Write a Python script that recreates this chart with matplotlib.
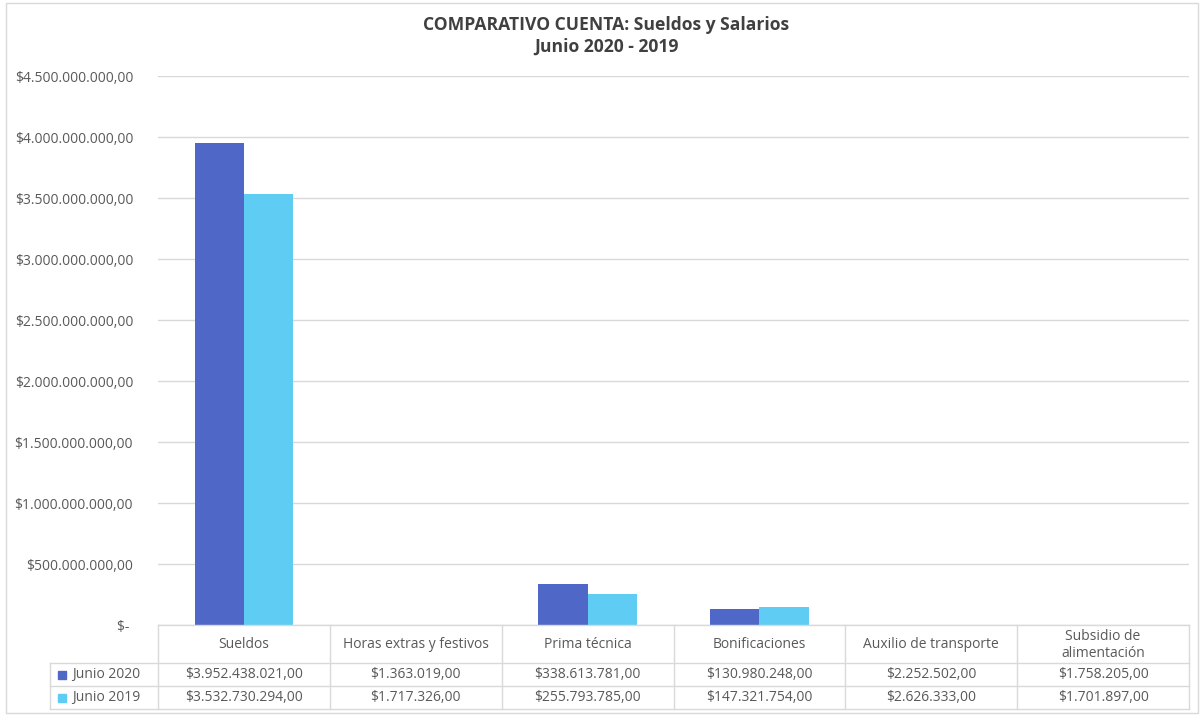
import matplotlib
matplotlib.use("Agg")
import matplotlib.pyplot as plt
from matplotlib.patches import Rectangle
from matplotlib.ticker import FuncFormatter

categories = ["Sueldos", "Horas extras y festivos", "Prima técnica",
              "Bonificaciones", "Auxilio de transporte", "Subsidio de\nalimentación"]
series_names = ["Junio 2020", "Junio 2019"]
junio_2020 = [3952438021.00, 1363019.00, 338613781.00, 130980248.00, 2252502.00, 1758205.00]
junio_2019 = [3532730294.00, 1717326.00, 255793785.00, 147321754.00, 2626333.00, 1701897.00]
yticks = [0, 500e6, 1000e6, 1500e6, 2000e6, 2500e6, 3000e6, 3500e6, 4000e6, 4500e6]
title = "COMPARATIVO CUENTA: Sueldos y Salarios\nJunio 2020 - 2019"

colors = ["#4F68C8", "#5FCDF3"]
text_color = "#595959"
grid_color = "#D9D9D9"
FONT = "Open Sans"

W, H = 1201, 715
fig = plt.figure(figsize=(W / 100, H / 100), dpi=100)
plt.rcParams['font.family'] = [FONT, 'DejaVu Sans']

def px(x0, y0, x1, y1):
    return [x0 / W, 1 - y1 / H, (x1 - x0) / W, (y1 - y0) / H]

# figure border
fig.patches.append(Rectangle((6 / W, 2 / H), (W - 9) / W, (H - 5) / H, transform=fig.transFigure,
                             fill=False, edgecolor="#D9D9D9", linewidth=1))

def fmt_money(v):
    if v == 0:
        return "$-"
    s = f"{v:,.2f}"
    s = s.replace(",", "X").replace(".", ",").replace("X", ".")
    return "$" + s

ax = fig.add_axes(px(158, 76, 1189, 625))
n = len(categories)
xs = list(range(n))
bw = 0.286
ax.bar([x - bw / 2 for x in xs], junio_2020, width=bw, color=colors[0], zorder=3)
ax.bar([x + bw / 2 for x in xs], junio_2019, width=bw, color=colors[1], zorder=3)
ax.set_xlim(-0.5, n - 0.5)
ax.set_ylim(0, 4500e6)
ax.set_yticks(yticks)
ax.yaxis.set_major_formatter(FuncFormatter(lambda v, p: fmt_money(v) if v != 0 else "$- "))
ax.tick_params(axis="y", length=0, pad=18, labelsize=10, labelcolor=text_color)
ax.set_xticks([])
ax.grid(axis="y", color=grid_color, linewidth=1, zorder=0)
for s in ["left", "right", "top", "bottom"]:
    ax.spines[s].set_visible(False)
fig.text(0.5 + 6 / W, 1 - 36 / H, title, ha="center", va="center", fontsize=12.6,
         fontweight="bold", color="#404040", linespacing=1.25)

# data table
tx0, tx1 = 158, 1189
lx0 = 50
y_top, y_h, y_r1, y_bot = 625, 663, 686, 709
tab = fig.add_axes([0, 0, 1, 1])
tab.set_xlim(0, W)
tab.set_ylim(H, 0)
tab.axis("off")
lc = "#D9D9D9"
cw = (tx1 - tx0) / n
tab.plot([tx0, tx1], [y_top, y_top], color=lc, lw=1)
for yy in (y_h, y_r1, y_bot):
    tab.plot([lx0, tx1], [yy, yy], color=lc, lw=1)
for i in range(n + 1):
    xx = tx0 + i * cw
    tab.plot([xx, xx], [y_top, y_bot], color=lc, lw=1)
tab.plot([lx0, lx0], [y_h, y_bot], color=lc, lw=1)
for i, c in enumerate(categories):
    tab.text(tx0 + (i + 0.5) * cw, (y_top + y_h) / 2 + 1, c, ha="center", va="center",
             fontsize=10, color=text_color, linespacing=1.15)
rows = [(junio_2020, y_h, y_r1), (junio_2019, y_r1, y_bot)]
for k, (vals, ya, yb) in enumerate(rows):
    ym = (ya + yb) / 2
    tab.add_patch(Rectangle((58, ym - 4), 8, 8, color=colors[k]))
    tab.text(72, ym, series_names[k], ha="left", va="center", fontsize=10, color=text_color)
    for i, v in enumerate(vals):
        tab.text(tx0 + (i + 0.5) * cw, ym, fmt_money(v), ha="center", va="center",
                 fontsize=10, color=text_color)

fig.savefig("out.png", dpi=100)
